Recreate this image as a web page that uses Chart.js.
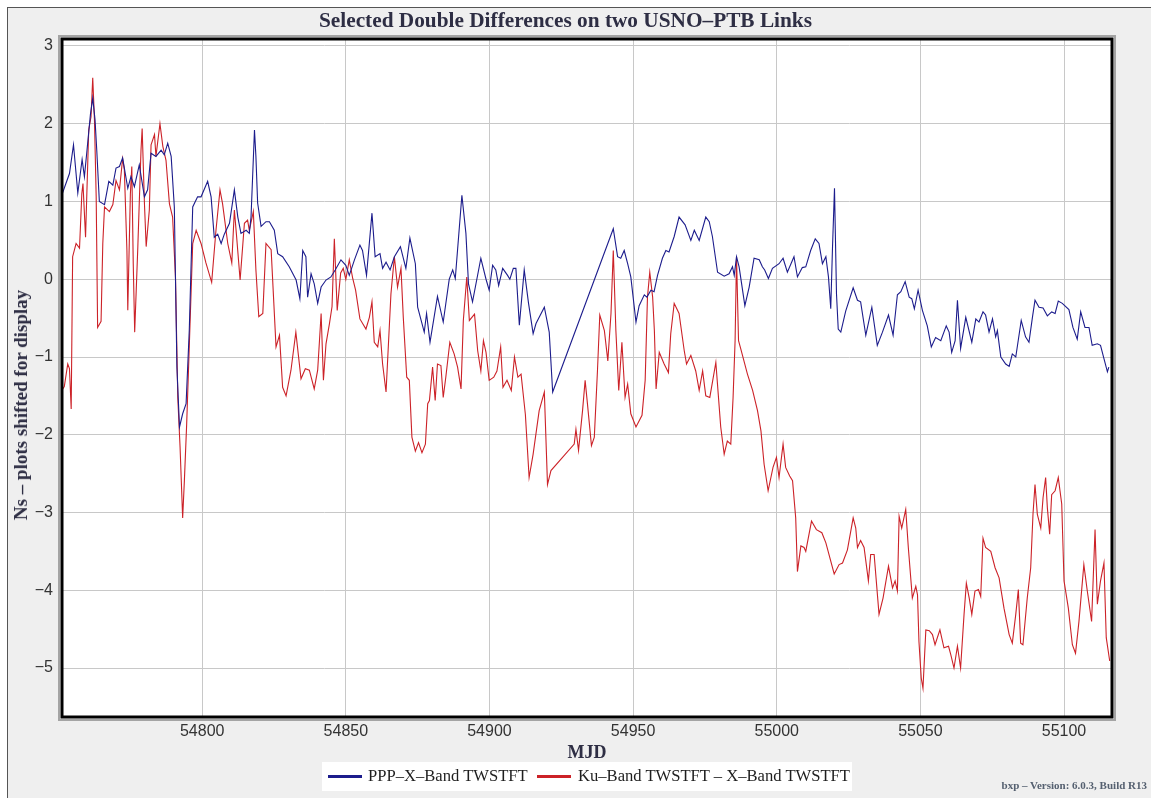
<!DOCTYPE html>
<html>
<head>
<meta charset="utf-8">
<title>Selected Double Differences on two USNO-PTB Links</title>
<script src="https://cdn.jsdelivr.net/npm/chart.js@4.4.1/dist/chart.umd.min.js"></script>
<style>
  html, body { margin: 0; padding: 0; background: #fff; overflow: hidden; }
  #frame { position: absolute; left: 7px; top: 7px; width: 1160px; height: 810px; background: #efefef;
           border-left: 1px solid #555; border-top: 1px solid #555; }
  #chart { position: absolute; left: 0; top: 0; }
  #title { position: absolute; left: -20px; top: 8px; width: 1171px; text-align: center;
           font: bold 21.3px "Liberation Serif", serif; color: #2e2e44; }
  #ytitle { position: absolute; left: 21px; top: 405px; transform: translate(-50%, -50%) rotate(-90deg);
            white-space: nowrap; font: bold 19px "Liberation Serif", serif; color: #2e2e44; }
  #legend { position: absolute; left: 322px; top: 762px; width: 530px; height: 29px; background: #fff;
            font: 16.6px "Liberation Serif", serif; color: #1e1e1e; }
  #legend .sw { position: absolute; top: 13px; width: 34px; height: 3px; }
  #legend .lb { position: absolute; top: 4px; white-space: nowrap; }
  #footer { position: absolute; right: 4px; top: 779px; font: bold 11px "Liberation Serif", serif; color: #556070; }
</style>
</head>
<body>
<div id="frame"></div>
<canvas id="chart" width="1151" height="798"></canvas>
<div id="title">Selected Double Differences on two USNO–PTB Links</div>
<div id="ytitle">Ns – plots shifted for display</div>
<div id="legend">
  <span class="sw" style="left:6px;background:#1c1c8c"></span>
  <span class="lb" style="left:46px">PPP–X–Band TWSTFT</span>
  <span class="sw" style="left:215px;background:#cc2228"></span>
  <span class="lb" style="left:256px">Ku–Band TWSTFT – X–Band TWSTFT</span>
</div>
<div id="footer">bxp – Version: 6.0.3, Build R13</div>
<script>
// PPP - X-Band TWSTFT (blue), MJD / ns
const pppMjd = [
  54751.1, 54753.8, 54755.2, 54756.7, 54758.2, 54759.0, 54759.8, 54761.1, 54761.9, 54762.7,
  54763.3, 54764.2, 54766.0, 54767.5, 54768.9, 54770.0, 54771.2, 54772.3, 54774.1, 54775.2,
  54776.4, 54778.1, 54779.9, 54781.0, 54782.2, 54783.9, 54785.7, 54786.8, 54788.0, 54789.2,
  54790.3, 54791.2, 54792.1, 54793.2, 54794.4, 54795.5, 54796.7, 54798.4, 54799.6, 54801.9,
  54803.1, 54804.2, 54805.4, 54806.6, 54807.7, 54809.5, 54811.2, 54812.4, 54813.5, 54815.3,
  54816.4, 54817.0, 54818.2, 54818.7, 54819.3, 54820.5, 54822.2, 54823.4, 54825.1, 54826.3,
  54828.0, 54830.3, 54832.7, 54834.0, 54835.0, 54836.1, 54836.7, 54837.9, 54839.0, 54840.2,
  54841.4, 54843.1, 54844.8, 54846.3, 54848.3, 54850.0, 54851.2, 54853.0, 54854.9, 54855.8,
  54857.2, 54859.1, 54860.2, 54861.9, 54862.8, 54864.0, 54865.4, 54866.9, 54869.0, 54870.9,
  54872.3, 54874.2, 54875.0, 54877.3, 54878.1, 54879.3, 54881.9, 54883.9, 54886.0, 54887.2,
  54888.1, 54890.4, 54891.8, 54892.7, 54894.1, 54897.0, 54898.8, 54899.9, 54901.1, 54902.2,
  54903.2, 54904.6, 54906.3, 54907.1, 54908.3, 54909.2, 54910.4, 54912.1, 54913.6, 54915.2,
  54916.2, 54919.1, 54920.8, 54922.0, 54943.1, 54944.6, 54945.7, 54946.9, 54948.1, 54949.2,
  54951.0, 54952.1, 54953.9, 54954.8, 54956.2, 54957.3, 54958.5, 54960.2, 54961.4, 54962.5,
  54964.3, 54966.0, 54968.1, 54970.1, 54971.3, 54973.0, 54975.3, 54976.5, 54977.6, 54979.4,
  54981.7, 54983.4, 54984.6, 54985.2, 54986.0, 54986.9, 54988.9, 54990.4, 54992.1, 54993.9,
  54995.0, 54995.8, 54997.1, 54998.5, 55000.8, 55002.2, 55003.7, 55006.0, 55007.2, 55008.9,
  55010.1, 55011.8, 55013.4, 55014.7, 55015.9, 55017.1, 55018.0, 55018.8, 55019.4, 55020.1,
  55020.8, 55021.4, 55022.3, 55024.0, 55026.6, 55028.1, 55029.2, 55031.0, 55033.1, 55035.0,
  55036.8, 55038.9, 55040.5, 55042.0, 55043.2, 55044.7, 55046.1, 55047.0, 55047.9, 55049.2,
  55050.7, 55052.4, 55053.8, 55055.3, 55057.1, 55059.0, 55060.0, 55060.9, 55062.1, 55062.9,
  55064.0, 55065.8, 55067.9, 55069.3, 55070.4, 55071.8, 55072.7, 55073.9, 55075.1, 55076.2,
  55076.8, 55078.0, 55079.7, 55080.9, 55082.0, 55083.2, 55085.1, 55086.6, 55087.8, 55089.0,
  55089.9, 55091.3, 55092.7, 55094.2, 55095.7, 55096.9, 55098.0, 55099.4, 55101.7, 55103.1,
  55104.6, 55105.8, 55107.3, 55108.7, 55109.8, 55111.6, 55112.7, 55113.9, 55115.1, 55115.6
];
const pppNs = [
  1.08, 1.36, 1.73, 1.11, 1.54, 1.32, 1.62, 2.12, 2.33, 2.05,
  1.66, 1.00, 0.96, 1.26, 1.21, 1.43, 1.45, 1.56, 1.17, 1.32,
  1.19, 1.47, 1.06, 1.15, 1.62, 1.58, 1.66, 1.60, 1.75, 1.58,
  0.93, -1.13, -1.90, -1.73, -1.60, -0.66, 0.93, 1.06, 1.06, 1.26,
  1.06, 0.54, 0.58, 0.46, 0.58, 0.72, 1.15, 0.80, 0.59, 0.63,
  0.59, 0.80, 1.92, 1.58, 0.98, 0.68, 0.74, 0.74, 0.63, 0.33,
  0.29, 0.16, -0.01, -0.25, 0.37, 0.29, -0.23, 0.07, -0.06, -0.31,
  -0.10, -0.01, 0.03, 0.12, 0.25, 0.18, 0.05, 0.25, 0.44, 0.37,
  0.05, 0.85, 0.29, 0.33, 0.14, 0.22, 0.12, 0.29, 0.42, 0.14,
  0.53, 0.20, -0.36, -0.68, -0.44, -0.81, -0.22, -0.55, 0.00, 0.12,
  0.01, 1.08, 0.59, -0.06, -0.29, 0.27, 0.00, -0.14, 0.18, 0.12,
  -0.08, 0.14, 0.05, 0.00, 0.14, 0.14, -0.59, 0.12, -0.31, -0.70,
  -0.57, -0.36, -0.68, -1.45, 0.65, 0.29, 0.27, 0.37, 0.20, 0.03,
  -0.55, -0.34, -0.20, -0.23, -0.14, -0.16, 0.05, 0.27, 0.37, 0.35,
  0.55, 0.80, 0.70, 0.50, 0.63, 0.50, 0.80, 0.74, 0.55, 0.09,
  0.04, 0.07, 0.16, 0.05, 0.29, 0.16, -0.34, -0.10, 0.27, 0.25,
  0.16, 0.12, 0.01, 0.14, 0.20, 0.27, 0.09, 0.29, 0.03, 0.15,
  0.16, 0.37, 0.52, 0.46, 0.20, 0.29, 0.03, -0.38, 0.40, 1.17,
  -0.19, -0.64, -0.68, -0.41, -0.11, -0.27, -0.29, -0.72, -0.36, -0.85,
  -0.68, -0.46, -0.72, -0.20, -0.16, -0.03, -0.23, -0.25, -0.38, -0.14,
  -0.40, -0.60, -0.87, -0.75, -0.79, -0.60, -0.68, -0.94, -0.79, -0.27,
  -0.89, -0.49, -0.81, -0.51, -0.55, -0.42, -0.46, -0.68, -0.51, -0.74,
  -0.66, -1.00, -1.09, -1.12, -0.96, -1.00, -0.53, -0.74, -0.81, -0.49,
  -0.27, -0.36, -0.37, -0.47, -0.42, -0.44, -0.28, -0.31, -0.39, -0.62,
  -0.77, -0.42, -0.62, -0.62, -0.85, -0.83, -0.85, -1.02, -1.19, -1.13
];

// Ku-Band TWSTFT - X-Band TWSTFT (red), MJD / ns
const kuMjd = [
  54751.1, 54752.0, 54753.2, 54753.8, 54754.4, 54754.9, 54756.1, 54757.3, 54758.1, 54758.5,
  54759.4, 54760.5, 54761.3, 54761.9, 54762.5, 54763.1, 54763.6, 54764.8, 54765.4, 54766.0,
  54767.7, 54768.9, 54770.0, 54771.2, 54772.3, 54772.9, 54773.8, 54774.1, 54775.0, 54775.5,
  54776.0, 54776.5, 54777.6, 54778.7, 54779.1, 54779.9, 54780.5, 54781.6, 54782.2, 54783.4,
  54783.9, 54785.3, 54786.3, 54787.4, 54788.6, 54789.7, 54790.7, 54791.5, 54792.3, 54793.2,
  54793.8, 54794.6, 54795.5, 54796.7, 54797.9, 54799.6, 54801.3, 54803.3, 54804.8, 54806.2,
  54807.1, 54808.9, 54810.3, 54811.2, 54812.0, 54813.2, 54814.7, 54815.8, 54816.4, 54817.8,
  54818.7, 54819.7, 54821.1, 54822.2, 54824.0, 54825.7, 54826.9, 54828.0, 54829.2, 54830.9,
  54832.6, 54834.4, 54835.9, 54837.3, 54839.0, 54840.2, 54841.4, 54842.2, 54843.1, 54844.3,
  54845.2, 54846.0, 54847.0, 54848.2, 54849.1, 54850.0, 54851.2, 54852.4, 54853.4, 54854.9,
  54857.0, 54858.2, 54859.1, 54859.9, 54861.1, 54861.9, 54862.8, 54864.0, 54865.7, 54866.9,
  54868.0, 54869.2, 54870.0, 54871.2, 54872.1, 54873.0, 54874.2, 54875.3, 54876.5, 54877.7,
  54878.5, 54879.1, 54880.2, 54881.1, 54881.9, 54883.1, 54883.9, 54884.8, 54886.2, 54887.7,
  54888.9, 54890.1, 54890.9, 54892.1, 54893.0, 54894.8, 54895.9, 54897.0, 54897.9, 54898.8,
  54899.9, 54901.5, 54902.6, 54903.9, 54904.7, 54906.1, 54907.6, 54908.7, 54909.9, 54911.0,
  54912.5, 54913.8, 54915.2, 54917.3, 54919.1, 54920.2, 54921.4, 54929.5, 54930.1, 54931.0,
  54932.4, 54933.3, 54934.1, 54935.5, 54936.5, 54937.6, 54938.4, 54940.0, 54941.2, 54942.3,
  54943.1, 54944.0, 54945.0, 54946.1, 54947.2, 54948.1, 54949.2, 54951.0, 54953.1, 54954.2,
  54955.0, 54955.8, 54956.8, 54957.4, 54958.0, 54959.1, 54960.8, 54962.3, 54963.1, 54964.3,
  54966.0, 54967.8, 54968.6, 54970.1, 54971.8, 54973.0, 54974.2, 54975.3, 54976.7, 54978.8,
  54980.5, 54981.7, 54982.8, 54984.0, 54984.8, 54985.5, 54986.0, 54986.7, 54987.5, 54989.8,
  54991.6, 54993.3, 54994.5, 54995.6, 54997.0, 54998.7, 54999.9, 55000.8, 55002.2, 55003.1,
  55004.5, 55005.5, 55006.6, 55007.2, 55008.4, 55009.5, 55010.1, 55012.1, 55013.8, 55015.7,
  55017.1, 55020.0, 55021.7, 55022.9, 55024.6, 55026.6, 55027.5, 55028.1, 55029.2, 55030.4,
  55031.9, 55032.7, 55033.9, 55035.6, 55037.0, 55038.9, 55040.3, 55041.2, 55042.0, 55042.6,
  55043.5, 55044.9, 55045.8, 55047.2, 55048.4, 55049.0, 55049.5, 55050.3, 55050.9, 55051.9,
  55053.1, 55054.2, 55055.1, 55056.8, 55058.2, 55059.8, 55060.6, 55061.7, 55062.9, 55064.0,
  55065.2, 55066.0, 55067.0, 55067.9, 55069.0, 55070.2, 55071.0, 55071.8, 55072.7, 55074.5,
  55076.0, 55077.4, 55079.1, 55080.9, 55082.0, 55083.2, 55084.1, 55084.9, 55085.7, 55087.2,
  55088.4, 55089.2, 55089.9, 55090.7, 55091.9, 55092.7, 55093.6, 55094.2, 55095.0, 55095.7,
  55096.9, 55098.0, 55099.2, 55100.0, 55101.5, 55102.9, 55104.0, 55105.2, 55106.9, 55108.1,
  55109.6, 55110.8, 55111.6, 55112.7, 55113.9, 55114.7, 55115.9
];
const kuNs = [
  -1.43, -1.38, -1.09, -1.15, -1.67, 0.29, 0.46, 0.40, 1.10, 1.23,
  0.54, 1.92, 2.09, 2.59, 2.05, 1.06, -0.62, -0.54, 0.46, 0.93,
  0.87, 0.96, 1.27, 1.15, 1.55, 1.41, 0.37, -0.40, 1.10, 1.45,
  0.20, -0.68, 0.42, 1.66, 1.94, 0.97, 0.42, 0.89, 1.73, 1.86,
  1.58, 2.00, 1.71, 1.53, 0.97, 0.80, 0.03, -1.52, -2.16, -3.07,
  -2.59, -1.86, -0.87, 0.46, 0.63, 0.46, 0.21, -0.04, 0.63, 1.15,
  0.97, 0.46, 0.21, 0.89, 0.54, -0.01, 0.72, 0.76, 0.63, 0.87,
  0.12, -0.48, -0.44, 0.46, 0.38, -0.87, -0.72, -1.39, -1.50, -1.17,
  -0.68, -1.28, -1.15, -1.17, -1.41, -1.17, -0.44, -1.30, -0.83, -0.57,
  -0.35, 0.52, -0.40, 0.08, 0.14, 0.00, 0.25, 0.01, -0.14, -0.51,
  -0.64, -0.49, -0.29, -0.81, -0.87, -0.66, -1.09, -1.45, -0.19, 0.29,
  -0.10, 0.14, -0.49, -1.26, -1.30, -2.03, -2.21, -2.10, -2.23, -2.12,
  -1.60, -1.56, -1.13, -1.56, -1.09, -1.11, -1.52, -1.26, -0.81, -0.96,
  -1.13, -1.41, -0.53, 0.03, -0.53, -0.45, -0.92, -1.18, -0.79, -0.94,
  -1.30, -1.26, -1.18, -0.87, -1.39, -1.30, -1.43, -1.00, -1.26, -1.22,
  -1.74, -2.55, -2.25, -1.69, -1.45, -2.64, -2.46, -2.12, -1.93, -2.20,
  -1.69, -1.30, -1.60, -2.14, -2.03, -1.17, -0.46, -0.66, -1.05, -0.44,
  0.37, -0.66, -1.43, -0.81, -1.52, -1.35, -1.73, -1.90, -1.75, -1.30,
  -0.23, 0.09, -0.23, -0.66, -1.41, -0.94, -1.09, -1.20, -0.70, -0.31,
  -0.44, -0.92, -1.09, -0.98, -1.18, -1.43, -1.18, -1.50, -1.52, -1.07,
  -1.90, -2.25, -2.08, -2.12, -1.52, -0.79, 0.29, -0.79, -0.90, -1.22,
  -1.43, -1.69, -1.95, -2.38, -2.72, -2.42, -2.29, -2.55, -2.12, -2.42,
  -2.53, -2.59, -3.07, -3.76, -3.43, -3.45, -3.50, -3.11, -3.22, -3.26,
  -3.39, -3.79, -3.67, -3.65, -3.48, -3.07, -3.20, -3.45, -3.36, -3.45,
  -3.88, -3.54, -3.54, -4.31, -4.10, -3.69, -3.97, -3.88, -4.01, -3.05,
  -3.20, -2.96, -3.45, -4.10, -3.95, -4.06, -4.66, -5.13, -5.26, -4.51,
  -4.52, -4.57, -4.70, -4.51, -4.74, -4.72, -4.83, -5.00, -4.72, -5.00,
  -4.31, -3.91, -4.10, -4.31, -4.01, -3.99, -4.08, -3.33, -3.45, -3.50,
  -3.71, -3.84, -4.23, -4.57, -4.68, -4.31, -3.99, -4.68, -4.70, -4.10,
  -3.71, -3.02, -2.64, -3.02, -3.20, -2.81, -2.55, -2.94, -3.28, -2.77,
  -2.72, -2.55, -2.89, -3.88, -4.23, -4.70, -4.81, -4.40, -3.67, -4.01,
  -4.40, -3.22, -4.18, -3.88, -3.65, -4.61, -4.91
];

const xTicks = [54800, 54850, 54900, 54950, 55000, 55050, 55100];
const yTicks = [3, 2, 1, 0, -1, -2, -3, -4, -5];

const toPoints = (xs, ys) => xs.map((x, i) => ({ x: x, y: ys[i] }));

// white plot area + bevelled black frame
const frame = {
  id: 'frame',
  beforeDraw(chart) {
    const { ctx, chartArea: a } = chart;
    ctx.save();
    ctx.fillStyle = '#fff';
    ctx.fillRect(a.left, a.top, a.width, a.height);
    ctx.restore();
  },
  afterDraw(chart) {
    const { ctx, chartArea: a } = chart;
    ctx.save();
    ctx.strokeStyle = '#a4a4a4';
    ctx.lineWidth = 2;
    ctx.strokeRect(a.left - 3, a.top - 3, a.width + 6, a.height + 6);
    ctx.strokeStyle = '#000';
    ctx.lineWidth = 3;
    ctx.strokeRect(a.left, a.top, a.width, a.height);
    ctx.restore();
  }
};

const ctx = document.getElementById('chart').getContext('2d');
new Chart(ctx, {
  type: 'line',
  data: {
    datasets: [{
      label: 'PPP–X–Band TWSTFT',
      data: toPoints(pppMjd, pppNs),
      borderColor: '#1c1c8c',
      borderWidth: 1.1,
      pointRadius: 0,
      tension: 0
    }, {
      label: 'Ku–Band TWSTFT – X–Band TWSTFT',
      data: toPoints(kuMjd, kuNs),
      borderColor: '#cc2228',
      borderWidth: 1.1,
      pointRadius: 0,
      tension: 0
    }]
  },
  options: {
    responsive: false,
    animation: false,
    layout: { padding: { top: 39, right: 39, bottom: 0, left: 0 } },
    plugins: {
      legend: { display: false },
      title: { display: false },
      tooltip: { enabled: false }
    },
    scales: {
      x: {
        type: 'linear',
        min: 54751.2,
        max: 55116.7,
        afterFit: function (s) { s.height = 81; },
        afterBuildTicks: function (s) { s.ticks = xTicks.map(v => ({ value: v })); },
        ticks: {
          padding: 5,
          color: '#333',
          maxRotation: 0,
          autoSkip: false,
          font: { family: 'Liberation Sans', size: 16 },
          callback: v => String(v)
        },
        grid: { color: '#c8c8c8', drawTicks: false },
        border: { display: false },
        title: {
          display: true,
          text: 'MJD',
          color: '#2e2e44',
          font: { family: 'Liberation Serif', size: 18, weight: 'bold' },
          padding: { top: 0, bottom: 34 }
        }
      },
      y: {
        min: -5.63,
        max: 3.09,
        afterFit: function (s) { s.width = 62; },
        afterBuildTicks: function (s) { s.ticks = yTicks.map(v => ({ value: v })); },
        ticks: {
          padding: 9,
          color: '#333',
          autoSkip: false,
          font: { family: 'Liberation Sans', size: 16 },
          callback: v => (v < 0 ? '\u2212' + Math.abs(v) : String(v))
        },
        grid: { color: '#c8c8c8', drawTicks: false },
        border: { display: false },
        title: { display: false }
      }
    }
  },
  plugins: [frame]
});
</script>
</body>
</html>
